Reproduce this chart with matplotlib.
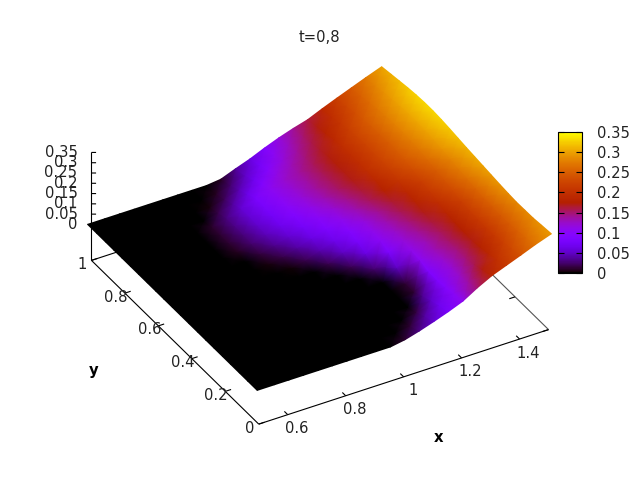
import numpy as np
import matplotlib
matplotlib.use('Agg')
import matplotlib.pyplot as plt
from matplotlib.cm import ScalarMappable
from matplotlib.colors import ListedColormap, Normalize
from mpl_toolkits.mplot3d import proj3d

plt.rcParams['font.family'] = 'DejaVu Sans'
plt.rcParams['font.size'] = 10.6

# surface, one row per y, columns follow x_vals
x_vals = [0.49, 0.55, 0.6, 0.65, 0.7, 0.75, 0.8, 0.85, 0.9, 0.95, 1.0,
          1.05, 1.1, 1.15, 1.2, 1.25, 1.3, 1.35, 1.4, 1.45, 1.505]
y_vals = [-0.008, 0.05, 0.1, 0.15, 0.2, 0.25, 0.3, 0.35, 0.4, 0.45, 0.5,
          0.55, 0.6, 0.65, 0.7, 0.75, 0.8, 0.85, 0.9, 0.95, 1.006]
z_rows = [
    [0] * 10 + [.012, .032, .055, .08, .108, .15, .186, .213, .24, .268, .295],
    [0] * 11 + [.012, .037, .067, .1, .136, .171, .2, .23, .26, .29],
    [0] * 12 + [.015, .05, .092, .125, .156, .187, .22, .252, .285],
    [0] * 13 + [.033, .088, .12, .148, .178, .213, .248, .284],
    [0] * 13 + [.012, .09, .122, .147, .172, .21, .247, .283],
    [0] * 13 + [.012, .105, .13, .152, .175, .212, .25, .286],
    [0] * 13 + [.05, .11, .132, .155, .178, .215, .252, .29],
    [0] * 12 + [.025, .085, .118, .14, .162, .185, .22, .258, .295],
    [0] * 11 + [.02, .062, .103, .125, .148, .17, .197, .232, .266, .30],
    [0] * 10 + [.018, .05, .08, .11, .133, .156, .183, .212, .243, .274, .305],
    [0] * 8 + [.002, .018, .043, .066, .092, .117, .141, .165, .19, .22, .25, .28, .31],
    [0] * 7 + [.004, .017, .039, .062, .085, .109, .132, .155, .178, .207, .235, .262, .29, .316],
    [0] * 7 + [.015, .033, .054, .076, .1, .121, .143, .164, .19, .218, .245, .27, .297, .322],
    [0] * 6 + [.008, .025, .046, .067, .09, .112, .132, .152, .17, .197, .223, .25, .276, .302, .327],
    [0] * 6 + [.012, .03, .052, .075, .1, .118, .137, .155, .172, .198, .224, .25, .278, .304, .33],
    [0] * 6 + [.012, .032, .055, .08, .103, .121, .138, .156, .173, .198, .224, .25, .278, .304, .33],
    [0] * 6 + [.01, .03, .054, .081, .105, .122, .138, .155, .172, .197, .223, .25, .275, .301, .327],
    [0] * 7 + [.017, .038, .063, .09, .111, .129, .147, .166, .19, .218, .245, .27, .296, .322],
    [0] * 7 + [.003, .02, .043, .068, .095, .117, .138, .158, .181, .207, .235, .262, .289, .315],
    [0] * 8 + [.007, .025, .05, .076, .105, .127, .15, .172, .198, .226, .254, .28, .308],
    [0] * 9 + [.008, .035, .06, .09, .117, .14, .16, .19, .218, .245, .272, .30],
]

x_ticks = [0.6, 0.8, 1, 1.2, 1.4]
y_ticks = [0, 0.2, 0.4, 0.6, 0.8, 1]
z_ticks = [0, 0.05, 0.1, 0.15, 0.2, 0.25, 0.3, 0.35]
cb_ticks = [0, 0.05, 0.1, 0.15, 0.2, 0.25, 0.3, 0.35]

# gnuplot default pm3d palette (rgbformulae 7,5,15)
g = np.linspace(0, 1, 256)
pal = ListedColormap(np.c_[np.sqrt(g), g**3, np.clip(np.sin(2 * np.pi * g), 0, 1)])
norm = Normalize(0, 0.35)

fig = plt.figure(figsize=(6.4, 4.8), dpi=100)

# 3d axes only supplies the projection, everything is drawn on the overlay
ax3d = fig.add_axes([-6.5 / 640, -7.5 / 480, 1, 1], projection='3d', proj_type='ortho')
ax3d.view_init(elev=34.4, azim=-120)
ax3d.set_box_aspect((1, 1, 0.391), zoom=0.993)
ax3d.set_xlim(0.5, 1.5, view_margin=0)
ax3d.set_ylim(0, 1, view_margin=0)
ax3d.set_zlim(-0.175, 0.35, view_margin=0)
ax3d.set_axis_off()
ax3d.apply_aspect()

ax = fig.add_axes([0, 0, 1, 1])
ax.set_xlim(0, 640)
ax.set_ylim(0, 480)
ax.axis('off')


def to_px(x, y, z):
    x = np.asarray(x, float)
    u, v, _ = proj3d.proj_transform(x.ravel(), np.ravel(y).astype(float),
                                    np.ravel(z).astype(float), ax3d.get_proj())
    pts = ax3d.transData.transform(np.c_[u, v])
    return pts[:, 0].reshape(x.shape), pts[:, 1].reshape(x.shape)


def seg(p, q, lw=0.8, color='black'):
    px, py = to_px([p[0], q[0]], [p[1], q[1]], [p[2], q[2]])
    ax.plot(px, py, color=color, lw=lw, zorder=1, solid_capstyle='butt')


zb = -0.175
# base box and z axis
seg((0.5, 0, zb), (1.5, 0, zb))
seg((0.5, 0, zb), (0.5, 1, zb))
seg((1.5, 0, zb), (1.5, 1, zb), color='#555555')
seg((0.5, 1, zb), (1.5, 1, zb))
seg((0.5, 1, zb), (0.5, 1, 0.35))

for t in x_ticks:
    seg((t, 0, zb), (t, 0.02, zb))
    seg((t, 1, zb), (t, 0.98, zb))
    px, py = to_px([t], [0], [zb])
    ax.text(px[0] + 9, py[0] - 14, str(t), ha='center', va='center', color='#222222')
for t in y_ticks:
    seg((0.5, t, zb), (0.52, t, zb))
    seg((1.5, t, zb), (1.48, t, zb))
    px, py = to_px([0.5], [t], [zb])
    ax.text(px[0] - 9, py[0] - 4, str(t), ha='center', va='center', color='#222222')
for t in z_ticks:
    seg((0.5, 1, t), (0.512, 0.993, t))
    px, py = to_px([0.5], [1], [t])
    ax.text(px[0] - 14, py[0], str(t), ha='right', va='center', color='#222222')

# surface
X, Y = np.meshgrid(x_vals, y_vals)
Z = np.array(z_rows)
SX, SY = to_px(X, Y, Z)
ax.pcolormesh(SX, SY, Z, shading='gouraud', cmap=pal, norm=norm, zorder=2)

ax.text(319, 443, 't=0,8', ha='center', va='center', color='#222222')
ax.text(439, 42, 'x', ha='center', va='center', fontweight='bold')
ax.text(94, 109, 'y', ha='center', va='center', fontweight='bold')

# colorbar
cax = fig.add_axes([558 / 640, 1 - 273 / 480, 24 / 640, 141 / 480])
cb = fig.colorbar(ScalarMappable(norm=norm, cmap=pal), cax=cax, ticks=cb_ticks)
cb.ax.set_yticklabels([str(t) for t in cb_ticks], color='#222222')
cb.ax.tick_params(direction='in', length=4, width=0.8, left=True, right=True, pad=11)
cb.outline.set_linewidth(0.8)

fig.savefig('out.png', dpi=100)
